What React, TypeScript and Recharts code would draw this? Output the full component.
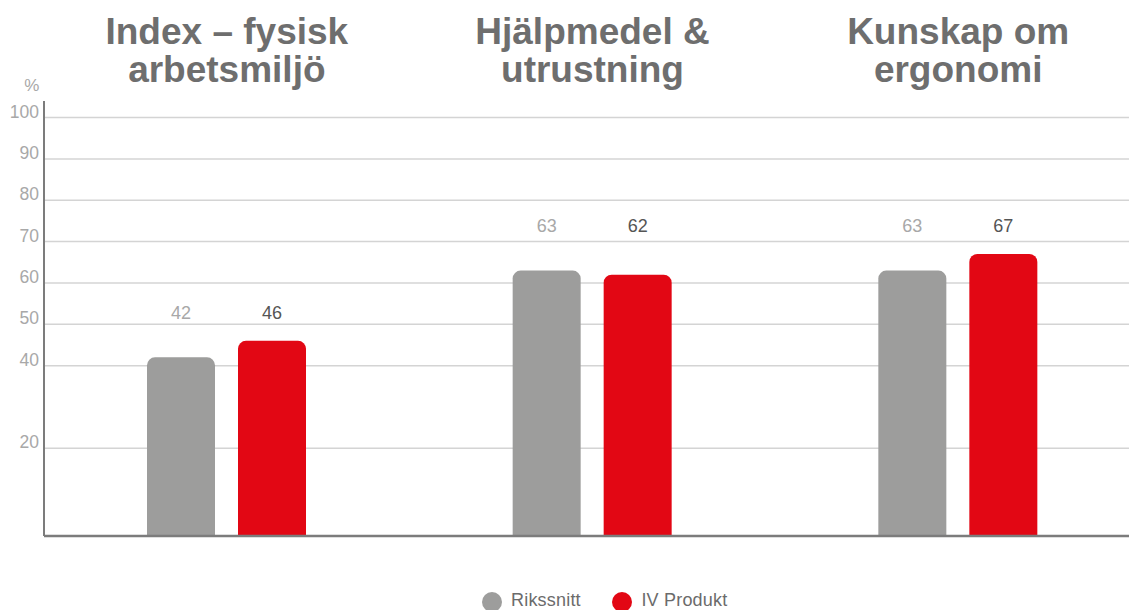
import React from 'react';
import { BarChart, Bar, XAxis, YAxis, CartesianGrid, LabelList, Rectangle } from 'recharts';

const categories = ['Index – fysisk arbetsmiljö', 'Hjälpmedel & utrustning', 'Kunskap om ergonomi'];
const titleLines = [
  ['Index – fysisk', 'arbetsmiljö'],
  ['Hjälpmedel &', 'utrustning'],
  ['Kunskap om', 'ergonomi'],
];
const rikssnitt = [42, 63, 63];
const ivProdukt = [46, 62, 67];
const yTicks = [20, 40, 50, 60, 70, 80, 90, 100];
const yDomain = [-1.2, 104];
const labelLevels = [52.8, 73.8, 73.8];
const seriesNames = ['Rikssnitt', 'IV Produkt'];
const seriesColors = ['#9d9d9c', '#e20714'];
const labelColors = ['#a8a8a8', '#555555'];

const FONT = '"Liberation Sans", Arial, Helvetica, sans-serif';

const data = categories.map((name, i) => ({ name, riks: rikssnitt[i], iv: ivProdukt[i] }));

const RoundedBar = (props: any) => {
  const { x, y, width, height, fill, background } = props;
  const bottom = background && background.height ? background.y + background.height : y + height;
  return <Rectangle x={x} y={y} width={width} height={bottom - y} fill={fill} radius={[8, 8, 0, 0]} />;
};

const makeLabel = (color: string) => (props: any) => {
  const { x, y, width, height, value, index } = props;
  const v = Number(value);
  if (!v) return null;
  const ppu = Number(height) / v;
  const base = Number(y) + Number(height);
  const ly = base - labelLevels[index ?? 0] * ppu;
  return (
    <text x={Number(x) + Number(width) / 2} y={ly} textAnchor="middle" dominantBaseline="central"
      fill={color} fontSize={18} fontFamily={FONT}>
      {value}
    </text>
  );
};

const TitleTick = (props: any) => {
  const { x, payload } = props;
  const i = categories.indexOf(payload.value);
  const lines = titleLines[i] || [payload.value];
  return (
    <g>
      {lines.map((l, k) => (
        <text key={k} x={x} y={44 + k * 37.5} textAnchor="middle" fill="#6e6e6e"
          fontSize={37} fontWeight="bold" fontFamily={FONT}>
          {l}
        </text>
      ))}
    </g>
  );
};

const YTick = (props: any) => {
  const { x, y, payload } = props;
  return (
    <text x={x} y={y} textAnchor="end" fill="#a8a8a8" fontSize={17.5} fontFamily={FONT}>
      {payload.value}
    </text>
  );
};

const PercentLabel = (props: any) => {
  const vb = props.viewBox || { x: 8, y: 101, width: 36 };
  return (
    <text x={vb.x + vb.width - 12.3} y={vb.y - 15.3} textAnchor="middle" dominantBaseline="central"
      fill="#a8a8a8" fontSize={17} fontFamily={FONT}>
      %
    </text>
  );
};

export default function App() {
  return (
    <div style={{ position: 'relative', width: 1129, height: 610, overflow: 'hidden', fontFamily: FONT }}>
      <style>{'html,body{margin:0;padding:0;overflow:hidden;}'}</style>
      <BarChart
        width={1129}
        height={610}
        data={data}
        margin={{ top: 8, right: -12, left: 8, bottom: 0 }}
        barSize={68}
        barGap={23}
      >
        <CartesianGrid horizontal vertical={false} syncWithTicks stroke="#d4d4d4" strokeWidth={1.5} />
        <XAxis xAxisId="top" orientation="top" dataKey="name" height={93} axisLine={false}
          stroke="none" tickLine={false} tick={<TitleTick />} interval={0} />
        <XAxis xAxisId="bottom" orientation="bottom" dataKey="name" height={74}
          axisLine={{ stroke: '#7c7c7c', strokeWidth: 2.5 }} tickLine={false} tick={false} />
        <YAxis width={36} type="number" domain={yDomain} ticks={yTicks} interval={0}
          axisLine={{ stroke: '#7c7c7c', strokeWidth: 2 }} tickLine={false} tickSize={0} tickMargin={5}
          tick={<YTick />} label={<PercentLabel />} />
        <Bar xAxisId="bottom" dataKey="riks" name={seriesNames[0]} fill={seriesColors[0]}
          shape={<RoundedBar />} isAnimationActive={false}>
          <LabelList dataKey="riks" content={makeLabel(labelColors[0])} />
        </Bar>
        <Bar xAxisId="bottom" dataKey="iv" name={seriesNames[1]} fill={seriesColors[1]}
          shape={<RoundedBar />} isAnimationActive={false}>
          <LabelList dataKey="iv" content={makeLabel(labelColors[1])} />
        </Bar>
      </BarChart>
      <div style={{ position: 'absolute', left: 482, top: 591.7, height: 20, display: 'flex', alignItems: 'center' }}>
        {seriesNames.map((n, i) => (
          <div key={n} style={{ display: 'flex', alignItems: 'center', marginRight: i === 0 ? 31.6 : 0 }}>
            <div style={{ width: 20, height: 20, borderRadius: 10, background: seriesColors[i] }} />
            <span style={{ marginLeft: 9, fontSize: 18, color: '#6b6b6b', fontFamily: FONT, lineHeight: '16px', position: 'relative', top: -1.5, whiteSpace: 'nowrap', letterSpacing: 0.2 }}>{n}</span>
          </div>
        ))}
      </div>
    </div>
  );
}
